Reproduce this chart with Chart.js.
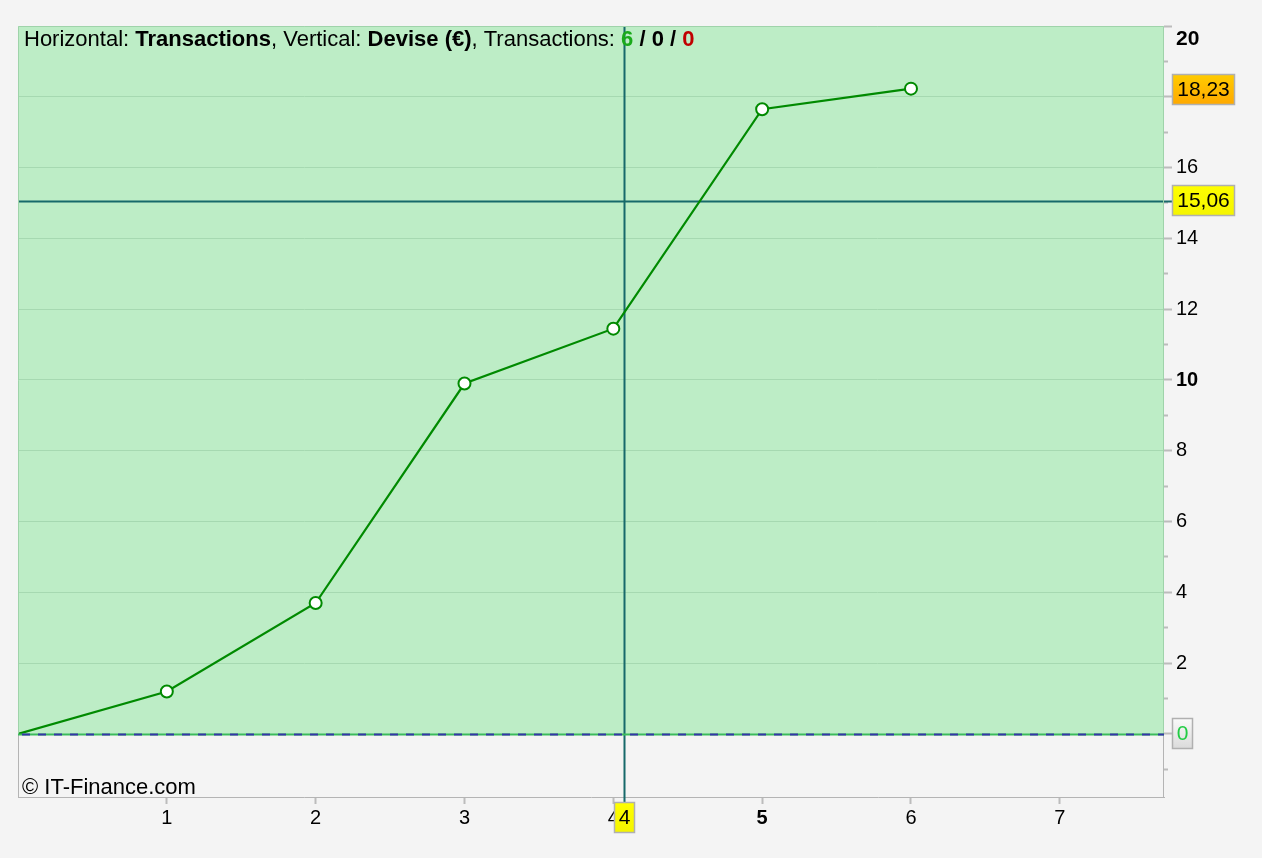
<!DOCTYPE html>
<html lang="fr">
<head>
<meta charset="UTF-8">
<title>Transactions / Devise</title>
<style>
  html, body { margin: 0; padding: 0; background: #f4f4f4; }
  #chart { display: block; }
</style>
</head>
<body>
<canvas id="chart" width="1262" height="858"></canvas>
<script src="https://cdn.jsdelivr.net/npm/chart.js"></script>
<script>
// data
const transactions = [0, 1, 2, 3, 4, 5, 6];
const devise = [0, 1.2, 3.7, 9.9, 11.45, 17.65, 18.23];
const xTicks = [0, 1, 2, 3, 4, 5, 6, 7];
const yTicks = [-1, 0, 1, 2, 3, 4, 5, 6, 7, 8, 9, 10, 11, 12, 13, 14, 15, 16, 17, 18, 19, 20];
const counts = [6, 0, 0];          // gagnantes / neutres / perdantes
const crossX = 4.07;               // curseur
const crossY = 15.06;
const crossXLabel = '4';
const crossYLabel = '15,06';
const lastLabel = '18,23';

const FONT = '"Liberation Sans", Arial, Helvetica, sans-serif';

function drawBox(ctx, x, y, w, h, top, bottom, text, color) {
    const g = ctx.createLinearGradient(0, y, 0, y + h);
    g.addColorStop(0, top);
    g.addColorStop(1, bottom);
    ctx.fillStyle = g;
    ctx.fillRect(x, y, w, h);
    ctx.strokeStyle = '#b0b0b0';
    ctx.lineWidth = 1.5;
    ctx.strokeRect(x + 0.5, y + 0.5, w - 1, h - 1);
    ctx.fillStyle = color;
    ctx.font = '21px ' + FONT;
    ctx.textAlign = 'center';
    ctx.textBaseline = 'middle';
    ctx.fillText(text, x + w / 2, y + h / 2 + 1);
}

const decor = {
    id: 'decor',
    beforeDraw(chart) {
        const {ctx, chartArea: a, scales: {y}} = chart;
        const y0 = y.getPixelForValue(0);
        ctx.save();
        ctx.fillStyle = '#bdedc6';
        ctx.fillRect(a.left, a.top, a.right - a.left, y0 - a.top);
        ctx.restore();
    },
    beforeDatasetsDraw(chart) {
        const {ctx, chartArea: a, scales: {x, y}} = chart;
        const cx = Math.round(x.getPixelForValue(crossX)) + 0.5;
        const cy = Math.round(y.getPixelForValue(crossY)) + 0.5;
        ctx.save();
        ctx.strokeStyle = '#17696a';
        ctx.lineWidth = 2;
        ctx.beginPath();
        ctx.moveTo(cx, a.top);
        ctx.lineTo(cx, a.bottom + 6);
        ctx.moveTo(a.left, cy);
        ctx.lineTo(a.right + 8, cy);
        ctx.stroke();
        ctx.restore();
    },
    afterDraw(chart) {
        const {ctx, chartArea: a, scales: {x, y}} = chart;
        const y0 = Math.round(y.getPixelForValue(0)) + 0.5;
        ctx.save();

        // frame
        ctx.lineWidth = 1;
        ctx.strokeStyle = '#9fd3aa';
        ctx.beginPath();
        ctx.moveTo(a.left + 0.5, y0);
        ctx.lineTo(a.left + 0.5, a.top + 0.5);
        ctx.lineTo(a.right - 0.5, a.top + 0.5);
        ctx.lineTo(a.right - 0.5, y0);
        ctx.stroke();
        ctx.strokeStyle = '#b4b4b4';
        ctx.beginPath();
        ctx.moveTo(a.left + 0.5, y0);
        ctx.lineTo(a.left + 0.5, a.bottom);
        ctx.moveTo(a.right - 0.5, y0);
        ctx.lineTo(a.right - 0.5, a.bottom);
        ctx.stroke();

        // zero line
        ctx.lineWidth = 2;
        ctx.strokeStyle = '#3cbb5c';
        ctx.beginPath();
        ctx.moveTo(a.left, y0);
        ctx.lineTo(a.right, y0);
        ctx.stroke();
        ctx.strokeStyle = '#3535a8';
        ctx.setLineDash([8, 8]);
        ctx.beginPath();
        ctx.moveTo(a.left + 4, y0);
        ctx.lineTo(a.right, y0);
        ctx.stroke();
        ctx.setLineDash([]);

        // header text
        const parts = [
            ['Horizontal: ', 'normal', '#000'],
            ['Transactions', 'bold', '#000'],
            [', Vertical: ', 'normal', '#000'],
            ['Devise (€)', 'bold', '#000'],
            [', Transactions: ', 'normal', '#000'],
            [String(counts[0]), 'bold', '#1aaa1a'],
            [' / ', 'bold', '#000'],
            [String(counts[1]), 'bold', '#000'],
            [' / ', 'bold', '#000'],
            [String(counts[2]), 'bold', '#c00000']
        ];
        let tx = a.left + 6;
        ctx.textAlign = 'left';
        ctx.textBaseline = 'middle';
        parts.forEach(([t, w, c]) => {
            ctx.font = w + ' 22px ' + FONT;
            ctx.fillStyle = c;
            ctx.fillText(t, tx, 40);
            tx += ctx.measureText(t).width;
        });

        // watermark
        ctx.font = '22px ' + FONT;
        ctx.fillStyle = '#000';
        ctx.textBaseline = 'alphabetic';
        ctx.fillText('© IT-Finance.com', a.left + 4, a.bottom - 3);

        // top tick label, pushed inside like the original
        ctx.font = 'bold 21px ' + FONT;
        ctx.textBaseline = 'middle';
        ctx.fillText(String(yTicks[yTicks.length - 1]), a.right + 12, y.getPixelForValue(20) + 13);

        // value boxes on the axes
        const bx = a.right + 8;
        drawBox(ctx, bx, Math.round(y.getPixelForValue(devise[devise.length - 1])) - 15, 63, 31,
            '#ffcc00', '#ffa800', lastLabel, '#000');
        drawBox(ctx, bx, Math.round(y.getPixelForValue(crossY)) - 16, 63, 31,
            '#ffff00', '#f4f400', crossYLabel, '#000');
        drawBox(ctx, bx, Math.round(y.getPixelForValue(0)) - 16, 21, 31,
            '#fafafa', '#dadada', '0', '#22cc44');
        drawBox(ctx, Math.round(x.getPixelForValue(crossX)) - 10, a.bottom + 5, 21, 31,
            '#ffff00', '#f4f400', crossXLabel, '#000');

        ctx.restore();
    }
};

new Chart(document.getElementById('chart'), {
    type: 'line',
    data: {
        datasets: [{
            data: transactions.map((t, i) => ({x: t, y: devise[i]})),
            borderColor: '#008a00',
            borderWidth: 2.2,
            pointRadius: c => c.dataIndex === 0 ? 0 : 6,
            pointBackgroundColor: '#ffffff',
            pointBorderColor: '#008a00',
            pointBorderWidth: 2,
            tension: 0
        }]
    },
    options: {
        responsive: false,
        animation: false,
        layout: {padding: {top: 26, left: 18, right: 0, bottom: 0}},
        plugins: {legend: {display: false}, tooltip: {enabled: false}},
        scales: {
            x: {
                type: 'linear',
                min: 0,
                max: 7.7,
                afterBuildTicks: s => { s.ticks = xTicks.map(v => ({value: v})); },
                afterFit: s => { s.height = 61; },
                grid: {
                    drawOnChartArea: false,
                    color: c => (c.tick && c.tick.value === 0) ? 'rgba(0,0,0,0)' : '#bcbcbc',
                    tickLength: 7,
                    tickWidth: 2
                },
                border: {color: '#b4b4b4', width: 1},
                ticks: {
                    autoSkip: false,
                    maxRotation: 0,
                    padding: 2,
                    color: '#000',
                    font: c => ({family: FONT, size: 20, weight: c.tick && c.tick.value === 5 ? 'bold' : 'normal'}),
                    callback: v => v === 0 ? '' : String(v)
                }
            },
            y: {
                type: 'linear',
                position: 'right',
                min: -1.78,
                max: 20,
                afterBuildTicks: s => { s.ticks = yTicks.map(v => ({value: v})); },
                afterFit: s => { s.width = 98; },
                grid: {
                    color: c => (c.tick && c.tick.value % 2 === 0 && c.tick.value !== 0 && c.tick.value !== 20)
                        ? '#a6d9b1' : 'rgba(0,0,0,0)',
                    tickColor: '#bcbcbc',
                    tickLength: 8,
                    tickWidth: 2,
                    tickBorderDash: c => (c.tick && c.tick.value % 2) ? [4, 30] : []
                },
                border: {display: false},
                ticks: {
                    autoSkip: false,
                    padding: 4,
                    color: '#000',
                    font: c => ({family: FONT, size: 20, weight: c.tick && c.tick.value === 10 ? 'bold' : 'normal'}),
                    callback: v => (v % 2 === 0 && v !== 20) ? String(v) : ''
                }
            }
        }
    },
    plugins: [decor]
});
</script>
</body>
</html>
